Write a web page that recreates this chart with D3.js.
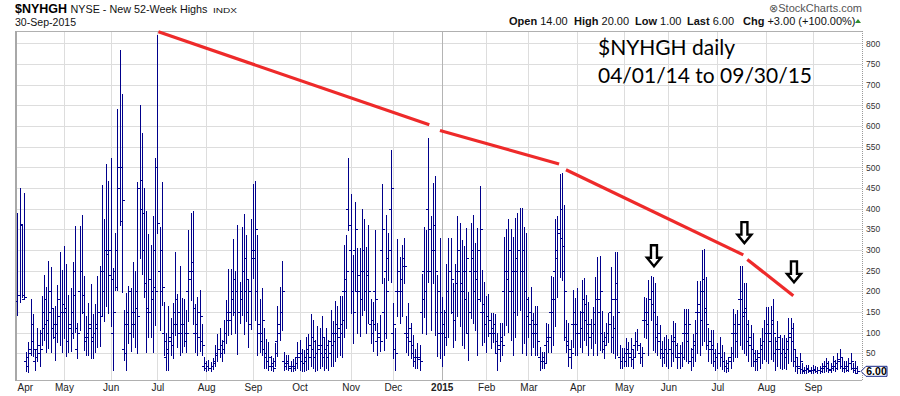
<!DOCTYPE html>
<html>
<head>
<meta charset="utf-8">
<style>
  body { margin: 0; background: #fff; }
  svg { display: block; font-family: Arial, "Liberation Sans", sans-serif; }
</style>
</head>
<body>
<svg id="chart"></svg>
<script src="https://d3js.org/d3.v7.min.js"></script>
<script>
// $NYHGH daily bars, 01-Apr-2014 .. 30-Sep-2015 (one entry per trading day)
var monthLabels = ["Apr","May","Jun","Jul","Aug","Sep","Oct","Nov","Dec","2015","Feb","Mar","Apr","May","Jun","Jul","Aug","Sep"];
var monthDays   = [21,21,21,22,21,21,23,19,22,20,19,22,21,20,22,22,21,21];

var highs = [
  389,449,363,437,54,77,181,145,60,110,106,189,240,209,273,258,159,163,215,295,252,
  310,265,191,207,270,358,123,358,385,237,140,171,218,145,169,237,261,457,374,508,468,
  522,257,340,641,784,677,155,195,213,207,270,250,464,651,582,449,393,339,312,382,522,
  820,356,464,175,98,163,135,171,295,194,261,183,181,155,348,390,395,169,185,203,121,40,
  30,34,28,38,70,97,110,82,131,179,253,253,326,250,360,223,355,387,336,227,374,
  460,467,336,181,207,110,84,76,42,38,74,165,209,273,52,45,46,30,35,40,78,
  82,60,58,90,97,145,131,82,115,110,139,86,110,82,155,127,177,165,189,189,312,336,523,
  435,288,417,304,304,398,374,308,360,181,175,348,123,143,460,231,385,342,542,
  171,110,326,282,312,328,140,171,123,94,60,74,70,242,356,347,570,382,461,480,240,328,
  187,155,266,328,328,221,266,382,365,323,310,352,199,366,385,316,352,455,252,223,
  189,194,147,147,145,100,123,123,332,350,374,350,331,377,389,401,401,355,340,
  187,211,148,165,165,66,54,52,124,121,237,234,374,381,483,486,409,131,123,81,203,183,
  207,151,226,231,191,175,132,161,234,284,285,151,102,124,147,258,140,294,294,70,62,
  62,86,76,86,60,102,108,74,65,187,183,226,237,235,219,140,119,80,88,94,
  85,94,127,123,74,70,78,156,156,156,62,97,131,225,225,300,302,235,110,105,105,60,
  74,89,70,52,34,40,66,156,145,155,261,260,219,219,131,119,98,58,58,86,110,131,
  161,161,163,181,90,127,94,86,94,86,135,135,123,58,40,50,26,16,22,22,16,
  22,18,16,19,26,30,38,30,26,42,34,50,60,38,30,32,38,50,26,30,20
];

var lows = [
  143,173,185,181,8,5,46,44,10,30,20,70,81,52,62,52,86,34,78,70,52,
  86,44,54,56,86,102,38,106,147,58,46,46,38,38,52,66,68,139,127,165,148,
  115,10,202,202,360,197,34,10,74,56,90,66,50,280,242,187,52,90,90,52,119,
  340,106,167,46,10,10,46,38,94,66,46,54,68,52,127,179,121,54,46,56,46,10,
  8,10,8,12,20,30,40,30,50,74,94,97,143,98,48,123,143,97,127,65,108,
  231,131,46,54,46,15,15,10,10,8,20,42,82,106,10,12,10,8,8,10,15,
  10,8,6,10,12,18,15,8,10,14,18,10,14,10,20,18,30,40,46,40,90,110,348,
  147,74,203,98,92,143,155,98,123,74,56,106,46,56,219,58,86,226,223,
  38,10,139,123,139,219,54,46,38,20,15,15,10,100,137,97,223,106,219,94,42,38,
  20,46,70,90,147,66,82,139,115,70,62,98,34,135,123,106,46,177,70,78,
  52,92,62,78,54,10,30,45,94,119,102,82,46,89,143,155,50,74,46,
  90,46,66,46,46,10,15,15,25,52,54,70,116,187,235,227,82,54,20,15,66,46,
  46,66,54,82,70,46,62,46,74,46,58,54,38,70,78,54,50,38,46,15,15,
  20,20,20,20,15,40,58,25,20,90,86,46,131,58,54,46,38,20,25,20,
  15,20,30,40,15,15,20,35,30,25,10,20,30,50,45,70,80,60,30,25,20,10,
  15,20,12,8,5,8,15,30,40,40,70,60,50,45,30,20,20,10,10,15,25,35,
  30,25,35,30,10,20,15,12,15,12,25,30,20,8,3,2,1,2,3,4,3,
  3,4,3,2,4,5,8,5,4,10,6,12,14,8,5,6,8,12,4,2,1
];

var opens = [
  177,191,363,181,30,20,60,80,30,60,50,100,110,120,130,150,110,90,120,140,150,
  150,150,80,120,150,250,60,200,250,150,80,100,120,80,100,120,150,250,250,300,300,
  300,100,250,300,500,500,60,50,120,100,150,120,200,450,400,300,200,150,150,200,300,
  500,250,300,100,40,60,80,100,150,120,150,100,120,80,200,250,250,100,120,150,80,20,
  15,20,15,20,30,50,60,50,80,100,150,150,200,150,200,150,200,250,200,150,200,
  300,300,200,100,100,60,40,30,20,20,30,80,120,150,30,25,25,15,20,20,40,
  40,30,25,40,50,70,60,40,50,60,70,40,60,40,80,70,100,100,110,100,200,200,400,
  300,200,300,200,200,250,250,200,250,120,100,200,80,100,300,150,250,280,400,
  100,60,200,200,200,280,100,100,80,50,30,40,40,150,250,200,400,250,300,300,150,200,
  100,100,150,200,250,150,200,250,250,200,200,250,100,250,280,200,250,300,150,150,
  120,140,100,100,100,50,70,80,200,250,250,200,200,250,250,300,250,250,200,
  140,150,100,100,100,40,30,30,70,80,150,150,250,280,350,400,250,90,70,40,120,120,
  120,100,150,150,130,100,90,100,150,180,180,100,60,90,100,150,90,180,180,40,30,
  40,50,50,50,35,70,80,50,40,130,130,150,180,170,150,90,80,50,50,60,
  50,60,80,80,40,40,50,100,100,100,30,60,80,150,150,200,200,150,70,60,60,30,
  40,50,40,30,20,25,40,100,100,100,180,180,150,150,80,70,60,30,30,50,70,80,
  100,100,100,120,50,80,60,50,60,50,80,90,80,30,20,20,12,8,10,12,8,
  10,10,8,10,15,15,20,15,12,20,20,25,30,20,15,15,20,25,15,15,14
];

var closes = [
  191,360,190,185,40,50,120,60,40,70,60,150,180,100,200,160,120,100,180,150,170,
  160,80,110,100,190,110,100,250,190,90,90,110,90,100,110,150,140,200,300,290,240,
  230,150,210,450,370,420,120,150,200,120,150,160,140,470,390,220,160,230,180,210,200,
  365,200,210,80,50,90,70,120,180,100,120,120,100,100,230,270,160,100,90,140,70,25,
  20,15,20,25,45,60,70,60,100,130,130,180,230,200,150,180,250,280,230,120,280,
  280,350,120,80,130,50,30,40,25,15,50,100,150,200,20,30,20,20,15,25,50,
  50,25,30,60,40,90,80,50,70,50,90,50,70,50,100,80,120,90,120,130,230,250,360,
  250,150,350,240,180,300,200,240,200,130,120,180,90,80,350,100,200,300,450,
  120,50,250,230,260,260,90,110,70,40,40,35,30,180,200,250,350,300,360,250,100,150,
  120,90,200,250,230,130,220,300,220,250,180,280,150,300,250,230,180,350,170,120,
  140,130,110,120,80,60,90,70,250,230,300,250,150,280,300,250,300,200,180,
  120,130,120,120,80,30,40,25,90,90,180,180,300,340,330,310,200,80,60,50,150,100,
  100,110,180,170,120,120,100,120,180,150,200,80,70,100,120,180,110,220,150,30,40,
  30,60,40,60,40,80,70,40,50,150,120,180,200,150,120,100,60,40,60,50,
  60,50,90,70,50,50,40,120,80,120,40,70,100,170,130,230,160,120,80,70,50,40,
  50,40,30,20,15,30,50,120,80,120,200,140,160,120,90,60,50,35,40,60,80,100,
  120,80,130,100,60,90,50,60,40,60,100,110,60,40,15,30,10,10,15,10,10,
  12,8,10,8,20,20,25,10,15,30,15,35,40,15,20,10,25,30,10,3,6
];

var yTicks = [50,100,150,200,250,300,350,400,450,500,550,600,650,700,750,800];

// hand-drawn annotations: red trend segments [bar, value, bar, value], arrow tips [bar, value]
var trendLines = [[63.5,828,185.4,603],[190.2,589,243.8,508],[246.9,494,326.7,288],[328.5,277,349.2,189]];
var arrowTips = [[286.5,258],[327.2,314],[349.5,219]];

var W = 900, H = 396;
var plotL = 16, plotR = 862, plotT = 31, plotB = 380;
var barColor = "#00008b";

var svg = d3.select("#chart").attr("width", W).attr("height", H);
svg.append("rect").attr("width", W).attr("height", H).attr("fill", "#fff");

var n = highs.length;
var x = d3.scaleLinear().domain([0, n - 1]).range([17.3, 857.3]);
var y = d3.scaleLinear().domain([-15, 830]).range([plotB, plotT]);

var ends = d3.cumsum(monthDays);
var starts = monthDays.map(function(d, i){ return ends[i] - d; });

function px(v){ return Math.round(v) + 0.5; }

// grid
var grid = svg.append("g").attr("shape-rendering", "crispEdges");
grid.selectAll(".hg").data(yTicks).enter().append("line")
  .attr("x1", plotL).attr("x2", plotR)
  .attr("y1", function(d){ return px(y(d)); }).attr("y2", function(d){ return px(y(d)); })
  .attr("stroke", "#dddddd");
grid.selectAll(".vg").data(starts.slice(1)).enter().append("line")
  .attr("x1", function(d){ return px(x(d)); }).attr("x2", function(d){ return px(x(d)); })
  .attr("y1", plotT).attr("y2", plotB)
  .attr("stroke", function(d, i){ return monthLabels[i + 1] === "2015" ? "#b4b4b4" : "#dddddd"; });

// frame
svg.append("line").attr("x1", plotL).attr("x2", plotR).attr("y1", plotT + 0.5).attr("y2", plotT + 0.5)
  .attr("stroke", "#b0b0b0");
svg.append("line").attr("x1", plotL).attr("x2", plotR).attr("y1", plotB + 0.5).attr("y2", plotB + 0.5)
  .attr("stroke", "#b0b0b0");
svg.append("line").attr("x1", plotL).attr("x2", plotL).attr("y1", plotT).attr("y2", plotB + 1)
  .attr("stroke", "#a8a8a8").attr("stroke-width", 2);
svg.append("line").attr("x1", plotR + 0.5).attr("x2", plotR + 0.5).attr("y1", plotT).attr("y2", plotB + 1)
  .attr("stroke", "#999").attr("stroke-dasharray", "1,1");

// OHLC bars
svg.append("clipPath").attr("id", "clip").append("rect")
  .attr("x", plotL).attr("y", plotT).attr("width", plotR - plotL).attr("height", plotB - plotT);
var bars = svg.append("g").attr("clip-path", "url(#clip)")
  .attr("stroke", barColor).attr("shape-rendering", "crispEdges");
var idx = d3.range(n);
bars.selectAll(".hl").data(idx).enter().append("line")
  .attr("x1", function(i){ return px(x(i)); }).attr("x2", function(i){ return px(x(i)); })
  .attr("y1", function(i){ return Math.round(y(highs[i])); })
  .attr("y2", function(i){ return Math.round(y(lows[i])) + 1; });
bars.selectAll(".op").data(idx).enter().append("line")
  .attr("x1", function(i){ return Math.round(x(i)) - 2; }).attr("x2", function(i){ return Math.round(x(i)); })
  .attr("y1", function(i){ return px(y(opens[i])); }).attr("y2", function(i){ return px(y(opens[i])); });
bars.selectAll(".cl").data(idx).enter().append("line")
  .attr("x1", function(i){ return Math.round(x(i)) + 1; }).attr("x2", function(i){ return Math.round(x(i)) + 3; })
  .attr("y1", function(i){ return px(y(closes[i])); }).attr("y2", function(i){ return px(y(closes[i])); });

// axes
var yAxis = svg.append("g").attr("transform", "translate(" + plotR + ",0)")
  .call(d3.axisRight(y).tickValues(yTicks).tickSize(0).tickPadding(4));
yAxis.select(".domain").remove();
yAxis.selectAll("text").attr("font-size", 8.5).attr("fill", "#333").attr("font-family", "Arial, 'Liberation Sans', sans-serif");

var xAxis = svg.append("g").attr("transform", "translate(0," + plotB + ")")
  .call(d3.axisBottom(x).tickValues(starts).tickSize(0).tickPadding(4)
    .tickFormat(function(d, i){ return monthLabels[i]; }));
xAxis.select(".domain").remove();
xAxis.selectAll("text").attr("font-size", 10).attr("fill", "#222")
  .attr("font-family", "Arial, 'Liberation Sans', sans-serif")
  .attr("font-weight", function(d, i){ return monthLabels[i] === "2015" ? "bold" : "normal"; })
  .attr("text-anchor", function(d, i){ return i === 0 ? "start" : "middle"; })
  .attr("x", function(d, i){ return i === 0 ? plotL - x(d) + 1 : 0; });

// last value marker
var last = closes[n - 1];
var ly = y(last);
var tag = svg.append("g");
tag.append("path")
  .attr("d", "M" + (plotR - 1) + "," + ly + " L" + (plotR + 4) + "," + (ly - 5) + " L" + (plotR + 25) + "," + (ly - 5) +
    " L" + (plotR + 25) + "," + (ly + 5) + " L" + (plotR + 4) + "," + (ly + 5) + " Z")
  .attr("fill", "#fff").attr("stroke", "#1a2a8a").attr("stroke-width", 1);
tag.append("text").attr("x", plotR + 14.5).attr("y", ly + 4).attr("text-anchor", "middle")
  .attr("font-size", 10.5).attr("font-weight", "bold").attr("fill", "#000").text(last.toFixed(2));

// red trend lines
svg.append("g").selectAll("line").data(trendLines).enter().append("line")
  .attr("x1", function(d){ return x(d[0]); }).attr("y1", function(d){ return y(d[1]); })
  .attr("x2", function(d){ return x(d[2]); }).attr("y2", function(d){ return y(d[3]); })
  .attr("stroke", "#ee2a2a").attr("stroke-width", 3.2);

// hollow down arrows
svg.append("g").selectAll("path").data(arrowTips).enter().append("path")
  .attr("transform", function(d){ return "translate(" + x(d[0]) + "," + y(d[1]) + ")"; })
  .attr("d", "M0,-1 L-7,-9.5 L-3,-9.5 L-3,-22 L3,-22 L3,-9.5 L7,-9.5 Z")
  .attr("fill", "#fff").attr("stroke", "#000").attr("stroke-width", 2.4).attr("stroke-linejoin", "miter");

// chart note
var note = svg.append("g").attr("font-family", "Lato, 'Open Sans', sans-serif").attr("font-size", 22).attr("fill", "#000");
note.append("text").attr("x", 598).attr("y", 55).attr("textLength", 137).attr("lengthAdjust", "spacingAndGlyphs").text("$NYHGH daily");
note.append("text").attr("x", 598).attr("y", 83).attr("textLength", 214).attr("lengthAdjust", "spacingAndGlyphs").text("04/01/14 to 09/30/15");

// header
svg.append("text").attr("x", 15).attr("y", 13).attr("font-size", 12).attr("font-weight", "bold")
  .attr("textLength", 52).attr("lengthAdjust", "spacingAndGlyphs").text("$NYHGH");
svg.append("text").attr("x", 70.5).attr("y", 13).attr("font-size", 11).attr("fill", "#111")
  .attr("textLength", 137).attr("lengthAdjust", "spacingAndGlyphs").text("NYSE - New 52-Week Highs");
svg.append("text").attr("x", 213).attr("y", 13).attr("font-size", 8).attr("fill", "#111")
  .attr("textLength", 24).attr("lengthAdjust", "spacingAndGlyphs").text("INDX");
svg.append("text").attr("x", 15).attr("y", 26).attr("font-size", 10).attr("fill", "#111")
  .attr("textLength", 61).attr("lengthAdjust", "spacingAndGlyphs").text("30-Sep-2015");
svg.append("text").attr("x", 862).attr("y", 12).attr("font-size", 11).attr("fill", "#555").attr("text-anchor", "end")
  .text("\u2297StockCharts.com");

var chg = closes[n - 1] - closes[n - 2];
var pct = chg / closes[n - 2] * 100;
var stats = [
  ["Open", opens[n - 1].toFixed(2), 509],
  ["High", highs[n - 1].toFixed(2), 574],
  ["Low", lows[n - 1].toFixed(2), 635],
  ["Last", closes[n - 1].toFixed(2), 687],
  ["Chg", (chg >= 0 ? "+" : "") + chg.toFixed(2) + " (" + (pct >= 0 ? "+" : "") + pct.toFixed(2) + "%)", 743]
];
var st = svg.append("g").attr("font-size", 11).attr("fill", "#111");
stats.forEach(function(s){
  var t = st.append("text").attr("x", s[2]).attr("y", 25);
  t.append("tspan").attr("font-weight", "bold").text(s[0]);
  t.append("tspan").text(" " + s[1]);
});
svg.append("path").attr("d", "M855,23 L861,23 L858,19 Z").attr("fill", "#2e8b2e");
</script>
</body>
</html>
